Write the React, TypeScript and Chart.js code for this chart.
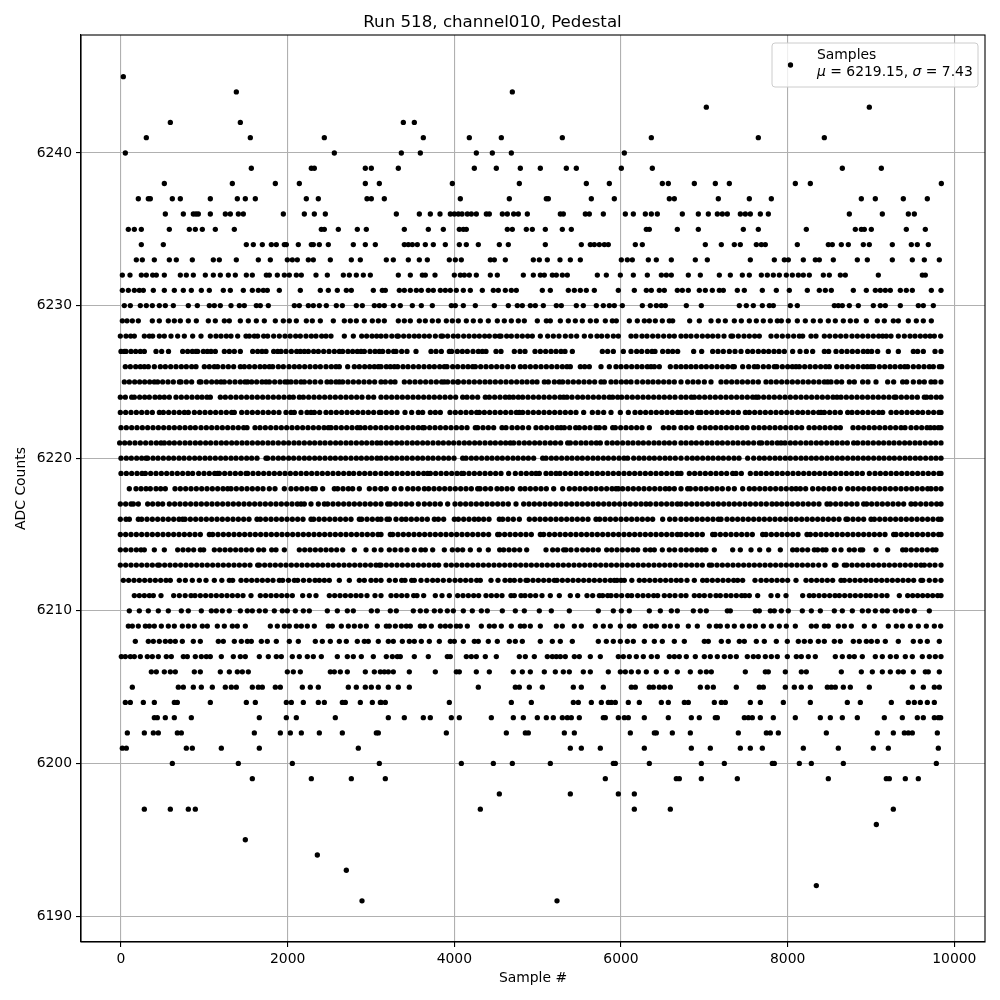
import React, { useEffect, useRef } from "react";
import { Chart, registerables } from "chart.js";
Chart.register(...registerables);

const FONT = '"DejaVu Sans", sans-serif';
const xTicks = [0, 2000, 4000, 6000, 8000, 10000];
const yTicks = [6190, 6200, 6210, 6220, 6230, 6240];

const s6245 = [28];
const s6244 = [1384, 4696];
const s6243 = [7024, 8980];
const s6242 = [592, 1432, 3388, 3520];
const s6241 = [304, 1552, 2440, 3628, 4180, 4564, 5296, 6364, 7648, 8440];
const s6240 = [52, 2560, 3364, 3592, 4264, 4456, 4684, 6040];
const s6239 = [1564, 2284, 2320, 2932, 3004, 3328, 4240, 4504, 4792, 5032, 5344, 5464, 6004, 6376, 8656, 9124];
const s6238 = [520, 1336, 1852, 2140, 2932, 3100, 3976, 4780, 5584, 5860, 6496, 6568, 6880, 7132, 7300, 8092, 8272, 9844];
const s6237 = [208, 328, 352, 616, 712, 1072, 1396, 1492, 1612, 2224, 2368, 2952, 3004, 3160, 4072, 4660, 5104, 5128, 5644, 5920, 6580, 6640, 7168, 7540, 7804, 8884, 9052, 9388, 9676];
const s6236 = [532, 748, 868, 900, 928, 1072, 1252, 1312, 1408, 1468, 1948, 2200, 2320, 2452, 3304, 3580, 3712, 3828, 3952, 4000, 4048, 4092, 4156, 4204, 4264, 4384, 4420, 4576, 4636, 4712, 4768, 4876, 5272, 5308, 5572, 5620, 5788, 6052, 6148, 6292, 6364, 6436, 6736, 6928, 7048, 7156, 7216, 7276, 7432, 7492, 7552, 7672, 7768, 8740, 9136, 9448, 9520];
const s6235 = [88, 160, 244, 580, 820, 892, 976, 1132, 1360, 2404, 2440, 2608, 2836, 2944, 3400, 3688, 3868, 4060, 4108, 4144, 4636, 4696, 4864, 4936, 5092, 5296, 5404, 6304, 6340, 6676, 6928, 7468, 7648, 8224, 8812, 8884, 8920, 9004, 9424, 9652];
const s6234 = [244, 508, 1504, 1588, 1696, 1804, 1864, 1960, 1984, 2128, 2284, 2308, 2380, 2488, 2788, 2932, 3052, 3400, 3448, 3496, 3556, 3652, 3748, 3892, 4060, 4144, 4288, 4540, 4648, 5092, 5524, 5632, 5680, 5740, 5800, 5848, 6172, 6256, 7012, 7204, 7360, 7432, 7624, 7684, 7732, 8116, 8488, 8536, 8644, 8728, 8908, 8980, 9256, 9484, 9556, 9688];
const s6233 = [184, 256, 400, 580, 664, 856, 1108, 1180, 1384, 1648, 1792, 1996, 2056, 2116, 2248, 2308, 2512, 2764, 2872, 3184, 3268, 3448, 3580, 3676, 3940, 4012, 4084, 4432, 4480, 4612, 4948, 5020, 5116, 5268, 5392, 5512, 6004, 6076, 6136, 6328, 6424, 6604, 6892, 7036, 7552, 7840, 7960, 8008, 8188, 8332, 8380, 8548, 8836, 8956, 9256, 9496, 9640, 9820];
const s6232 = [16, 108, 244, 304, 380, 424, 520, 712, 784, 868, 1012, 1108, 1192, 1288, 1372, 1504, 1576, 1744, 1780, 1876, 1960, 2020, 2104, 2164, 2340, 2476, 2668, 2740, 2824, 2908, 2992, 3328, 3472, 3616, 3652, 3768, 4000, 4072, 4120, 4180, 4264, 4432, 4516, 4828, 4948, 5032, 5080, 5176, 5224, 5296, 5356, 5716, 5824, 5992, 6148, 6316, 6484, 6544, 6604, 6808, 6952, 7180, 7312, 7456, 7540, 7684, 7756, 7828, 7900, 7984, 8056, 8128, 8188, 8260, 8428, 8500, 8632, 8692, 9088, 9616, 9652];
const s6231 = [16, 88, 160, 220, 268, 388, 520, 640, 748, 844, 964, 1060, 1228, 1312, 1468, 1576, 1648, 1708, 1756, 1900, 2152, 2392, 2488, 2596, 2704, 2764, 3028, 3136, 3172, 3340, 3400, 3472, 3544, 3604, 3688, 3748, 3832, 3892, 3952, 4024, 4108, 4192, 4336, 4468, 4528, 4612, 4684, 4744, 5056, 5152, 5368, 5440, 5512, 5584, 5680, 5968, 6160, 6304, 6364, 6460, 6520, 6676, 6736, 6808, 6940, 7012, 7096, 7180, 7228, 7396, 7480, 7696, 7864, 8020, 8236, 8380, 8452, 8524, 8788, 8944, 9052, 9112, 9172, 9232, 9352, 9424, 9496, 9724, 9840];
const s6230 = [40, 112, 232, 304, 376, 460, 532, 628, 808, 916, 1060, 1120, 1192, 1320, 1420, 1480, 1624, 1672, 1768, 2080, 2140, 2248, 2308, 2380, 2464, 2584, 2656, 2824, 2896, 3040, 3100, 3160, 3268, 3352, 3496, 3604, 3736, 3964, 4012, 4108, 4252, 4480, 4648, 4756, 4816, 4912, 4972, 5068, 5224, 5284, 5464, 5548, 5704, 5788, 5860, 5920, 6016, 6256, 6352, 6424, 6484, 6532, 6784, 6964, 7420, 7504, 7588, 7696, 7780, 7828, 8032, 8116, 8560, 8608, 8656, 8740, 8848, 9028, 9112, 9172, 9352, 9568, 9628, 9748];
const s6229 = [16, 72, 136, 208, 376, 460, 568, 640, 712, 808, 904, 1048, 1132, 1240, 1300, 1432, 1528, 1624, 1720, 1852, 1948, 2020, 2104, 2224, 2296, 2392, 2548, 2680, 2752, 2824, 2920, 3016, 3088, 3160, 3328, 3400, 3472, 3580, 3652, 3736, 3808, 3904, 3976, 4048, 4144, 4228, 4312, 4408, 4516, 4600, 4684, 4768, 4840, 4996, 5104, 5152, 5272, 5368, 5452, 5536, 5632, 5704, 5812, 5896, 5944, 6100, 6196, 6280, 6340, 6412, 6496, 6580, 6620, 6824, 6940, 7080, 7168, 7252, 7360, 7444, 7540, 7624, 7708, 7792, 7876, 7924, 8008, 8116, 8212, 8308, 8392, 8488, 8572, 8668, 8752, 8824, 8944, 9076, 9160, 9268, 9328, 9448, 9544, 9628, 9724];
const s6228 = [-8, 60, 116, 160, 280, 340, 380, 460, 520, 600, 680, 760, 860, 960, 1072, 1140, 1200, 1264, 1320, 1400, 1500, 1540, 1600, 1640, 1712, 1760, 1832, 1900, 1968, 2030, 2096, 2152, 2220, 2284, 2340, 2408, 2460, 2520, 2680, 2788, 2888, 2948, 3012, 3068, 3120, 3180, 3250, 3312, 3328, 3392, 3456, 3520, 3576, 3640, 3700, 3772, 3840, 3860, 3920, 3988, 4044, 4112, 4176, 4240, 4300, 4364, 4420, 4488, 4540, 4560, 4628, 4684, 4752, 4816, 4880, 4936, 5032, 5120, 5188, 5256, 5332, 5400, 5468, 5560, 5636, 5712, 5768, 5836, 5908, 5968, 6120, 6180, 6252, 6312, 6380, 6444, 6512, 6580, 6640, 6720, 6780, 6840, 6908, 6976, 7040, 7100, 7164, 7236, 7320, 7340, 7408, 7476, 7540, 7604, 7660, 7800, 7868, 7936, 8004, 8072, 8140, 8180, 8280, 8340, 8440, 8504, 8572, 8636, 8700, 8772, 8836, 8900, 8964, 9028, 9092, 9140, 9184, 9240, 9328, 9400, 9468, 9528, 9592, 9652, 9708, 9760, 9836];
const s6227 = [0, 40, 60, 120, 176, 232, 280, 420, 488, 570, 740, 800, 856, 900, 920, 988, 1036, 1080, 1132, 1240, 1300, 1360, 1432, 1580, 1640, 1692, 1740, 1832, 1880, 1920, 1980, 2044, 2108, 2152, 2200, 2248, 2312, 2368, 2432, 2496, 2560, 2620, 2660, 2724, 2780, 2836, 2880, 2920, 2988, 3048, 3100, 3140, 3208, 3272, 3300, 3368, 3432, 3540, 3720, 3780, 3844, 3940, 3968, 4036, 4096, 4156, 4224, 4288, 4336, 4380, 4500, 4560, 4720, 4788, 4848, 4968, 5032, 5096, 5160, 5220, 5280, 5328, 5416, 5776, 5840, 5908, 6028, 6120, 6188, 6248, 6316, 6372, 6408, 6500, 6564, 6620, 6680, 6872, 6968, 7100, 7164, 7228, 7300, 7368, 7440, 7520, 7580, 7648, 7712, 7772, 7836, 7896, 7960, 8060, 8148, 8224, 8300, 8440, 8492, 8580, 8648, 8712, 8776, 8840, 8908, 8960, 9008, 9080, 9208, 9328, 9508, 9560, 9628, 9768, 9840];
const s6226 = [52, 112, 176, 232, 280, 328, 400, 472, 532, 596, 660, 724, 784, 848, 900, 1000, 1060, 1120, 1160, 1224, 1288, 1352, 1432, 1480, 1540, 1604, 1668, 1724, 1780, 1820, 1888, 1948, 2016, 2080, 2140, 2204, 2268, 2332, 2392, 2460, 2524, 2580, 2620, 2720, 2800, 2860, 2924, 2984, 3040, 3088, 3120, 3184, 3232, 3280, 3320, 3384, 3444, 3508, 3572, 3636, 3700, 3760, 3824, 3880, 3912, 3980, 4040, 4104, 4164, 4220, 4252, 4316, 4380, 4444, 4508, 4572, 4640, 4708, 4792, 4848, 4912, 4976, 5040, 5104, 5168, 5232, 5296, 5352, 5392, 5512, 5564, 5620, 5760, 5860, 5940, 6000, 6064, 6128, 6192, 6252, 6316, 6360, 6400, 6460, 6592, 6660, 6720, 6780, 6840, 6900, 6964, 7024, 7088, 7152, 7216, 7280, 7340, 7360, 7460, 7532, 7600, 7640, 7708, 7772, 7840, 7870, 7936, 8000, 8056, 8100, 8140, 8204, 8268, 8332, 8396, 8456, 8500, 8588, 8652, 8716, 8780, 8844, 8908, 8956, 9000, 9032, 9100, 9164, 9228, 9288, 9352, 9404, 9440, 9508, 9572, 9636, 9700, 9748, 9820, 9848];
const s6225 = [40, 100, 164, 224, 284, 344, 400, 440, 500, 564, 628, 700, 720, 784, 848, 940, 960, 1024, 1088, 1148, 1200, 1240, 1304, 1368, 1432, 1488, 1520, 1568, 1628, 1692, 1740, 1780, 1844, 1908, 1968, 2000, 2040, 2100, 2160, 2200, 2264, 2328, 2396, 2472, 2520, 2580, 2620, 2660, 2724, 2788, 2852, 2916, 2980, 3044, 3120, 3172, 3236, 3288, 3400, 3464, 3528, 3592, 3656, 3720, 3784, 3848, 3880, 3920, 3984, 4040, 4048, 4112, 4176, 4240, 4304, 4368, 4428, 4492, 4556, 4620, 4684, 4748, 4812, 4872, 4936, 4992, 5080, 5128, 5200, 5260, 5300, 5364, 5428, 5492, 5556, 5620, 5684, 5760, 5800, 5880, 5940, 6004, 6064, 6120, 6192, 6260, 6324, 6384, 6448, 6512, 6576, 6640, 6720, 6800, 6864, 6928, 7000, 7080, 7200, 7264, 7328, 7392, 7456, 7520, 7584, 7648, 7740, 7800, 7864, 7928, 7992, 8056, 8120, 8184, 8248, 8312, 8376, 8440, 8480, 8520, 8588, 8648, 8740, 8800, 8900, 8964, 9060, 9200, 9272, 9380, 9428, 9508, 9580, 9640, 9720, 9768, 9840];
const s6224 = [-8, 52, 128, 160, 224, 284, 340, 408, 464, 520, 580, 660, 724, 788, 852, 916, 972, 1032, 1072, 1192, 1252, 1316, 1380, 1444, 1508, 1572, 1636, 1700, 1764, 1828, 1892, 1956, 2020, 2068, 2140, 2188, 2252, 2316, 2380, 2444, 2508, 2572, 2636, 2700, 2764, 2828, 2892, 2968, 3032, 3120, 3184, 3248, 3312, 3376, 3440, 3504, 3568, 3632, 3696, 3760, 3824, 3888, 3952, 4016, 4100, 4152, 4216, 4280, 4372, 4420, 4484, 4548, 4612, 4660, 4708, 4768, 4820, 4884, 4948, 5012, 5076, 5140, 5204, 5268, 5312, 5352, 5412, 5480, 5540, 5604, 5668, 5732, 5796, 5860, 5900, 5960, 6008, 6072, 6136, 6200, 6264, 6328, 6392, 6456, 6520, 6584, 6648, 6720, 6780, 6844, 6880, 6940, 7004, 7068, 7132, 7196, 7260, 7324, 7388, 7452, 7516, 7580, 7620, 7648, 7712, 7776, 7840, 7904, 7968, 8032, 8096, 8160, 8224, 8288, 8352, 8416, 8480, 8544, 8592, 8640, 8704, 8768, 8832, 8896, 8960, 9024, 9088, 9152, 9216, 9280, 9300, 9364, 9428, 9492, 9556, 9640, 9668, 9720, 9784, 9840];
const s6223 = [-8, 56, 120, 184, 248, 312, 376, 460, 508, 572, 636, 700, 760, 808, 880, 944, 1008, 1072, 1136, 1200, 1264, 1328, 1360, 1448, 1512, 1576, 1640, 1704, 1768, 1832, 1896, 1980, 2040, 2080, 2160, 2232, 2280, 2320, 2384, 2460, 2520, 2584, 2648, 2712, 2776, 2840, 2904, 2968, 3032, 3100, 3120, 3184, 3248, 3312, 3408, 3488, 3568, 3620, 3712, 3772, 3832, 3948, 4012, 4076, 4140, 4204, 4268, 4300, 4360, 4424, 4488, 4552, 4616, 4680, 4744, 4780, 4820, 4884, 4948, 5012, 5076, 5140, 5204, 5268, 5332, 5396, 5460, 5552, 5656, 5724, 5792, 5880, 5992, 6088, 6168, 6232, 6296, 6360, 6424, 6488, 6552, 6616, 6680, 6720, 6784, 6848, 6920, 6960, 7024, 7088, 7152, 7216, 7280, 7344, 7408, 7492, 7540, 7604, 7668, 7732, 7796, 7860, 7924, 7988, 8052, 8120, 8180, 8244, 8308, 8372, 8400, 8440, 8504, 8568, 8632, 8720, 8772, 8836, 8900, 8964, 9028, 9092, 9140, 9240, 9304, 9368, 9432, 9496, 9560, 9620, 9688, 9752, 9816, 9840];
const s6222 = [0, 64, 128, 192, 256, 320, 384, 448, 512, 576, 640, 704, 768, 832, 892, 960, 1024, 1088, 1152, 1216, 1280, 1344, 1408, 1472, 1512, 1608, 1668, 1732, 1796, 1860, 1924, 1988, 2052, 2116, 2180, 2244, 2308, 2372, 2436, 2488, 2520, 2580, 2644, 2708, 2772, 2836, 2872, 2928, 2992, 3056, 3120, 3184, 3248, 3312, 3376, 3440, 3504, 3568, 3620, 3640, 3704, 3768, 3832, 3896, 3960, 4024, 4088, 4152, 4252, 4280, 4344, 4408, 4472, 4572, 4620, 4692, 4756, 4820, 4892, 4980, 5044, 5108, 5172, 5236, 5280, 5320, 5384, 5456, 5500, 5564, 5628, 5700, 5740, 5804, 5900, 5932, 5996, 6060, 6124, 6188, 6252, 6340, 6508, 6572, 6636, 6720, 6784, 6848, 6940, 7008, 7072, 7136, 7200, 7264, 7328, 7392, 7456, 7512, 7592, 7656, 7720, 7784, 7848, 7912, 7976, 8040, 8104, 8168, 8256, 8320, 8384, 8448, 8512, 8576, 8632, 8784, 8848, 8912, 8976, 9040, 9104, 9168, 9232, 9296, 9360, 9408, 9480, 9544, 9608, 9672, 9712, 9760, 9808, 9840];
const s6221 = [-16, 44, 104, 168, 232, 296, 360, 424, 480, 520, 580, 640, 704, 768, 828, 892, 952, 1016, 1076, 1140, 1204, 1264, 1328, 1388, 1452, 1512, 1576, 1640, 1700, 1764, 1824, 1888, 1952, 2012, 2076, 2136, 2200, 2264, 2324, 2388, 2448, 2512, 2576, 2636, 2700, 2760, 2824, 2888, 2948, 3012, 3072, 3120, 3184, 3244, 3308, 3368, 3432, 3496, 3556, 3620, 3680, 3744, 3808, 3868, 3932, 3992, 4056, 4120, 4180, 4244, 4304, 4368, 4432, 4492, 4556, 4616, 4672, 4712, 4776, 4840, 4900, 4964, 5024, 5088, 5152, 5212, 5276, 5360, 5392, 5456, 5520, 5580, 5644, 5704, 5752, 5832, 5896, 5956, 6020, 6084, 6144, 6208, 6268, 6332, 6396, 6456, 6520, 6580, 6644, 6720, 6780, 6844, 6904, 6968, 7032, 7092, 7156, 7216, 7280, 7344, 7404, 7468, 7528, 7592, 7660, 7688, 7752, 7812, 7876, 7920, 7968, 8032, 8092, 8156, 8220, 8280, 8344, 8404, 8468, 8532, 8592, 8656, 8716, 8792, 8840, 8904, 8964, 9028, 9092, 9152, 9216, 9276, 9340, 9404, 9464, 9528, 9588, 9652, 9716, 9776, 9840];
const s6220 = [0, 64, 124, 188, 248, 300, 320, 384, 444, 508, 572, 632, 696, 756, 820, 884, 944, 1008, 1068, 1132, 1196, 1256, 1320, 1380, 1444, 1508, 1568, 1632, 1740, 1760, 1824, 1888, 1948, 2012, 2072, 2136, 2200, 2260, 2324, 2384, 2448, 2512, 2572, 2636, 2696, 2760, 2824, 2884, 2948, 3008, 3072, 3120, 3184, 3248, 3308, 3372, 3432, 3496, 3560, 3620, 3684, 3744, 3808, 3872, 3932, 3996, 4100, 4140, 4204, 4264, 4328, 4392, 4452, 4516, 4576, 4640, 4704, 4764, 4828, 4888, 4952, 5060, 5100, 5164, 5224, 5288, 5352, 5412, 5476, 5536, 5600, 5664, 5724, 5788, 5848, 5912, 5976, 6036, 6080, 6152, 6216, 6276, 6340, 6400, 6464, 6528, 6588, 6652, 6720, 6792, 6856, 6916, 6980, 7044, 7104, 7168, 7228, 7292, 7356, 7416, 7520, 7592, 7660, 7720, 7784, 7848, 7908, 7972, 8032, 8096, 8160, 8220, 8284, 8344, 8408, 8472, 8532, 8596, 8656, 8720, 8784, 8844, 8908, 8968, 9032, 9096, 9156, 9220, 9280, 9344, 9408, 9468, 9532, 9592, 9656, 9720, 9780, 9840];
const s6219 = [0, 64, 128, 192, 252, 292, 356, 420, 484, 548, 612, 676, 740, 804, 860, 932, 996, 1060, 1124, 1160, 1180, 1244, 1308, 1372, 1436, 1500, 1520, 1584, 1648, 1712, 1776, 1840, 1904, 1968, 2032, 2096, 2160, 2224, 2288, 2352, 2416, 2480, 2544, 2608, 2672, 2736, 2792, 2860, 2924, 2988, 3052, 3120, 3184, 3248, 3312, 3376, 3440, 3504, 3568, 3632, 3680, 3712, 3776, 3840, 3904, 3968, 4032, 4088, 4112, 4176, 4240, 4304, 4368, 4432, 4496, 4560, 4652, 4732, 4800, 4864, 4928, 4980, 5020, 5100, 5160, 5220, 5268, 5332, 5396, 5460, 5524, 5588, 5652, 5716, 5780, 5844, 5908, 5972, 6036, 6100, 6164, 6228, 6292, 6356, 6420, 6484, 6548, 6612, 6676, 6720, 6820, 6884, 6948, 7012, 7076, 7140, 7204, 7268, 7340, 7380, 7444, 7552, 7620, 7680, 7744, 7808, 7872, 7936, 8000, 8064, 8128, 8192, 8256, 8320, 8384, 8448, 8512, 8576, 8640, 8704, 8768, 8832, 8896, 8980, 9048, 9112, 9176, 9240, 9304, 9368, 9432, 9496, 9560, 9624, 9688, 9752, 9816, 9840];
const s6218 = [100, 180, 240, 300, 352, 420, 476, 532, 648, 712, 776, 840, 904, 968, 1032, 1096, 1160, 1224, 1280, 1320, 1384, 1448, 1512, 1576, 1640, 1704, 1780, 1848, 1960, 2040, 2104, 2168, 2232, 2300, 2332, 2420, 2560, 2600, 2664, 2728, 2780, 2860, 2980, 3048, 3120, 3120, 3184, 3280, 3360, 3440, 3504, 3568, 3640, 3692, 3756, 3820, 3884, 3948, 4012, 4076, 4140, 4204, 4280, 4308, 4372, 4436, 4512, 4568, 4632, 4696, 4792, 4848, 4912, 4976, 5040, 5104, 5192, 5300, 5380, 5444, 5508, 5572, 5636, 5700, 5764, 5828, 5892, 5940, 5968, 6020, 6084, 6148, 6212, 6276, 6340, 6404, 6468, 6532, 6580, 6640, 6720, 6800, 6832, 6896, 6960, 7024, 7088, 7152, 7216, 7288, 7360, 7460, 7540, 7600, 7664, 7728, 7792, 7856, 7920, 7984, 8048, 8100, 8152, 8216, 8300, 8368, 8432, 8496, 8560, 8632, 8720, 8784, 8848, 8912, 8976, 9040, 9104, 9168, 9232, 9296, 9360, 9424, 9488, 9552, 9616, 9680, 9720, 9780, 9840];
const s6217 = [-8, 56, 120, 148, 208, 320, 380, 444, 500, 580, 644, 708, 772, 836, 900, 964, 1028, 1092, 1156, 1220, 1284, 1348, 1412, 1476, 1540, 1604, 1668, 1732, 1796, 1860, 1924, 1988, 2052, 2116, 2160, 2200, 2280, 2368, 2440, 2480, 2544, 2608, 2672, 2736, 2800, 2864, 2928, 2992, 3056, 3120, 3200, 3232, 3296, 3360, 3424, 3488, 3568, 3640, 3704, 3768, 3832, 3920, 4008, 4072, 4136, 4200, 4264, 4328, 4392, 4456, 4520, 4584, 4648, 4740, 4832, 4896, 4960, 5024, 5088, 5152, 5216, 5280, 5344, 5408, 5472, 5536, 5600, 5664, 5728, 5792, 5856, 5920, 5984, 6048, 6112, 6176, 6240, 6300, 6352, 6420, 6484, 6548, 6612, 6676, 6720, 6784, 6848, 6912, 6976, 7040, 7104, 7168, 7232, 7296, 7360, 7424, 7488, 7552, 7616, 7680, 7744, 7812, 7868, 7928, 7992, 8056, 8120, 8184, 8248, 8312, 8376, 8472, 8512, 8576, 8640, 8704, 8768, 8832, 8912, 8948, 9008, 9072, 9136, 9200, 9264, 9328, 9392, 9480, 9532, 9596, 9660, 9724, 9788, 9840];
const s6216 = [-8, 60, 100, 208, 248, 312, 376, 440, 504, 568, 632, 696, 740, 768, 832, 896, 960, 1024, 1088, 1152, 1216, 1280, 1344, 1408, 1472, 1536, 1632, 1672, 1736, 1800, 1864, 1928, 1992, 2056, 2120, 2184, 2280, 2312, 2376, 2440, 2504, 2568, 2632, 2696, 2760, 2860, 2888, 2952, 3016, 3080, 3120, 3192, 3220, 3300, 3368, 3420, 3484, 3548, 3612, 3676, 3760, 3808, 3872, 4000, 4048, 4112, 4176, 4240, 4292, 4352, 4416, 4540, 4580, 4644, 4708, 4780, 4900, 4964, 5028, 5092, 5156, 5220, 5284, 5348, 5412, 5476, 5540, 5604, 5700, 5744, 5808, 5872, 5936, 6000, 6064, 6128, 6192, 6256, 6320, 6380, 6500, 6584, 6648, 6720, 6784, 6848, 6912, 6976, 7040, 7104, 7168, 7200, 7272, 7336, 7400, 7464, 7528, 7592, 7656, 7720, 7784, 7848, 7912, 7976, 8040, 8104, 8168, 8232, 8296, 8360, 8424, 8488, 8552, 8616, 8700, 8720, 8784, 8848, 8912, 9000, 9040, 9104, 9168, 9232, 9296, 9360, 9424, 9488, 9552, 9616, 9680, 9744, 9808, 9840];
const s6215 = [-8, 56, 120, 184, 248, 312, 376, 440, 504, 568, 632, 696, 760, 824, 888, 952, 1060, 1100, 1164, 1228, 1292, 1356, 1420, 1484, 1548, 1612, 1676, 1740, 1804, 1868, 1932, 1996, 2060, 2124, 2188, 2252, 2316, 2380, 2444, 2508, 2572, 2636, 2700, 2764, 2828, 2892, 2956, 3020, 3084, 3120, 3232, 3260, 3324, 3388, 3452, 3516, 3580, 3644, 3708, 3772, 3836, 3900, 3964, 4028, 4092, 4156, 4220, 4284, 4348, 4412, 4520, 4540, 4604, 4668, 4732, 4796, 4860, 4924, 5032, 5072, 5140, 5204, 5268, 5332, 5396, 5460, 5524, 5588, 5652, 5716, 5780, 5844, 5908, 5972, 6036, 6100, 6164, 6228, 6292, 6356, 6420, 6484, 6548, 6612, 6676, 6720, 6784, 6848, 6912, 6976, 7100, 7128, 7192, 7256, 7320, 7384, 7448, 7512, 7576, 7700, 7740, 7804, 7868, 7932, 7996, 8060, 8124, 8232, 8272, 8336, 8400, 8464, 8528, 8592, 8656, 8720, 8784, 8848, 8912, 8976, 9040, 9104, 9168, 9272, 9300, 9364, 9428, 9492, 9556, 9620, 9684, 9748, 9812, 9840];
const s6214 = [-8, 56, 120, 184, 240, 280, 400, 520, 680, 744, 808, 872, 952, 992, 1120, 1184, 1248, 1312, 1376, 1440, 1504, 1568, 1652, 1712, 1808, 1860, 1960, 2140, 2204, 2268, 2332, 2396, 2460, 2524, 2588, 2660, 2800, 2940, 3040, 3120, 3220, 3288, 3360, 3432, 3520, 3600, 3652, 3740, 3880, 3976, 4040, 4100, 4192, 4300, 4408, 4544, 4592, 4656, 4720, 4784, 4868, 5100, 5180, 5240, 5312, 5340, 5400, 5470, 5540, 5600, 5664, 5728, 5828, 5888, 5952, 6016, 6080, 6144, 6200, 6292, 6352, 6400, 6496, 6580, 6644, 6720, 6784, 6848, 6912, 6968, 7020, 7120, 7340, 7432, 7560, 7664, 7772, 7912, 8060, 8112, 8176, 8240, 8320, 8360, 8420, 8460, 8560, 8640, 8740, 8800, 8872, 8900, 9060, 9200, 9380, 9420, 9484, 9548, 9612, 9676, 9740, 9780];
const s6213 = [-8, 56, 120, 184, 248, 312, 376, 440, 460, 524, 588, 652, 716, 780, 844, 908, 972, 1036, 1100, 1164, 1228, 1292, 1356, 1420, 1484, 1548, 1640, 1660, 1724, 1788, 1852, 1916, 1980, 2044, 2108, 2172, 2236, 2300, 2360, 2420, 2484, 2548, 2612, 2676, 2740, 2804, 2868, 2932, 2996, 3060, 3100, 3120, 3184, 3248, 3312, 3376, 3440, 3504, 3568, 3632, 3696, 3760, 3812, 3900, 3964, 4028, 4092, 4156, 4220, 4284, 4348, 4412, 4476, 4540, 4604, 4668, 4732, 4796, 4860, 4924, 4988, 5052, 5116, 5180, 5244, 5308, 5372, 5436, 5500, 5564, 5628, 5692, 5756, 5820, 5884, 5948, 6012, 6076, 6140, 6204, 6268, 6332, 6396, 6460, 6524, 6588, 6652, 6720, 6784, 6848, 6912, 6976, 7060, 7088, 7152, 7216, 7280, 7344, 7408, 7472, 7536, 7600, 7664, 7728, 7792, 7856, 7920, 7984, 8048, 8112, 8176, 8240, 8304, 8372, 8448, 8560, 8580, 8680, 8708, 8772, 8836, 8900, 8964, 9028, 9092, 9156, 9220, 9284, 9348, 9412, 9476, 9540, 9600, 9640, 9704, 9768, 9840];
const s6212 = [28, 92, 156, 220, 284, 348, 412, 476, 540, 592, 700, 772, 856, 940, 1020, 1120, 1210, 1300, 1340, 1440, 1504, 1568, 1632, 1696, 1760, 1824, 1900, 1940, 2010, 2080, 2120, 2190, 2260, 2328, 2380, 2440, 2500, 2620, 2740, 2860, 2920, 3000, 3060, 3120, 3220, 3292, 3368, 3408, 3488, 3520, 3600, 3672, 3740, 3800, 3868, 3940, 4008, 4072, 4136, 4200, 4268, 4312, 4440, 4524, 4608, 4668, 4720, 4790, 4860, 4880, 4944, 5008, 5072, 5136, 5200, 5232, 5296, 5360, 5424, 5488, 5552, 5616, 5680, 5744, 5808, 5872, 5920, 5952, 6000, 6040, 6130, 6220, 6280, 6344, 6408, 6472, 6536, 6600, 6664, 6720, 6792, 6880, 6980, 7032, 7096, 7160, 7224, 7288, 7352, 7400, 7460, 7608, 7680, 7744, 7808, 7872, 7936, 8000, 8100, 8220, 8284, 8348, 8412, 8476, 8540, 8640, 8680, 8744, 8808, 8872, 8936, 9000, 9064, 9128, 9192, 9256, 9320, 9384, 9448, 9512, 9600, 9620, 9700, 9770, 9840];
const s6211 = [160, 220, 280, 340, 388, 480, 632, 700, 770, 840, 888, 952, 1016, 1080, 1144, 1208, 1272, 1336, 1400, 1464, 1560, 1672, 1736, 1800, 1864, 1928, 1992, 2056, 2180, 2260, 2340, 2500, 2564, 2628, 2692, 2756, 2820, 2880, 2952, 3048, 3120, 3240, 3304, 3368, 3432, 3512, 3552, 3632, 3772, 3852, 3940, 4040, 4104, 4168, 4232, 4292, 4380, 4444, 4508, 4572, 4680, 4720, 4800, 4848, 4912, 4976, 5052, 5152, 5260, 5392, 5480, 5592, 5660, 5740, 5780, 5840, 5880, 5944, 6008, 6080, 6128, 6200, 6264, 6328, 6392, 6440, 6520, 6584, 6648, 6720, 6780, 6880, 6940, 7000, 7070, 7140, 7192, 7260, 7320, 7384, 7448, 7488, 7540, 7640, 7800, 7880, 7980, 8180, 8260, 8312, 8376, 8440, 8504, 8568, 8620, 8684, 8748, 8812, 8876, 8940, 8992, 9060, 9130, 9192, 9340, 9440, 9500, 9560, 9620, 9680, 9740, 9800, 9840];
const s6210 = [100, 220, 328, 448, 568, 724, 808, 964, 1084, 1144, 1216, 1300, 1432, 1516, 1576, 1660, 1732, 1840, 1936, 1996, 2092, 2188, 2260, 2476, 2596, 2716, 2788, 3004, 3076, 3232, 3304, 3508, 3592, 3664, 3760, 3832, 3916, 3988, 4108, 4216, 4324, 4396, 4576, 4732, 4840, 5020, 5164, 5380, 5728, 5908, 6004, 6100, 6340, 6472, 6604, 6676, 6868, 6952, 7024, 7276, 7312, 7612, 7660, 7792, 7840, 7924, 8008, 8176, 8284, 8392, 8560, 8656, 8776, 8896, 8968, 9052, 9136, 9196, 9292, 9364, 9436, 9520, 9700];
const s6209 = [88, 136, 208, 292, 340, 400, 484, 568, 640, 736, 808, 880, 976, 1036, 1156, 1240, 1336, 1396, 1492, 1792, 1876, 1960, 2020, 2104, 2164, 2236, 2320, 2488, 2536, 2644, 2728, 2800, 2872, 2944, 3076, 3184, 3220, 3292, 3364, 3424, 3472, 3592, 3640, 3724, 3832, 3892, 3952, 4024, 4072, 4156, 4324, 4420, 4480, 4564, 4684, 4792, 4840, 4912, 5032, 5224, 5296, 5440, 5524, 5692, 5788, 5872, 5992, 6100, 6160, 6292, 6364, 6424, 6520, 6592, 6676, 6808, 6916, 7060, 7144, 7192, 7276, 7360, 7456, 7540, 7612, 7708, 7804, 7900, 7984, 8092, 8284, 8344, 8440, 8488, 8608, 8680, 8764, 8920, 9040, 9208, 9304, 9376, 9472, 9568, 9664, 9760, 9836];
const s6208 = [172, 328, 388, 460, 532, 592, 652, 736, 868, 952, 1168, 1228, 1360, 1444, 1516, 1564, 1684, 1756, 1864, 2020, 2128, 2332, 2416, 2512, 2620, 2704, 2836, 2920, 2968, 3088, 3208, 3268, 3376, 3460, 3520, 3604, 3700, 3820, 3952, 4000, 4108, 4240, 4288, 4408, 4516, 4660, 4732, 4816, 5032, 5176, 5272, 5416, 5728, 5824, 5908, 5992, 6076, 6148, 6280, 6400, 6496, 6640, 6760, 7000, 7048, 7204, 7288, 7420, 7480, 7624, 7720, 7864, 7996, 8128, 8200, 8272, 8368, 8440, 8560, 8632, 8788, 8860, 8944, 9004, 9076, 9172, 9328, 9508, 9592, 9676, 9820];
const s6207 = [4, 52, 112, 160, 232, 316, 376, 448, 544, 604, 748, 796, 892, 964, 1024, 1072, 1204, 1348, 1432, 1492, 1660, 1768, 1864, 1924, 2056, 2140, 2236, 2308, 2404, 2596, 2716, 2788, 2884, 3028, 3184, 3256, 3316, 3352, 3520, 3688, 3916, 3952, 4144, 4204, 4264, 4372, 4504, 4780, 4852, 4960, 5116, 5176, 5224, 5272, 5332, 5440, 5500, 5632, 5752, 5968, 6028, 6100, 6184, 6268, 6364, 6436, 6580, 6640, 6700, 6784, 6892, 7000, 7072, 7156, 7240, 7312, 7384, 7516, 7588, 7648, 7732, 7804, 7876, 7996, 8104, 8164, 8248, 8332, 8572, 8656, 8740, 8800, 8896, 9052, 9136, 9232, 9304, 9412, 9496, 9616, 9700, 9772, 9840];
const s6206 = [364, 424, 520, 592, 652, 880, 952, 1192, 1300, 1396, 1456, 1528, 1996, 2068, 2152, 2512, 2560, 2632, 2716, 2932, 3040, 3112, 3160, 3208, 3268, 3460, 3772, 4024, 4060, 4264, 4420, 4708, 4816, 4912, 5080, 5212, 5308, 5380, 5548, 5632, 5848, 5992, 6052, 6124, 6208, 6304, 6424, 6544, 6676, 6832, 6952, 7024, 7084, 7492, 7732, 7768, 7972, 8164, 8224, 8644, 8884, 9016, 9136, 9232, 9328, 9388, 9508, 9652, 9688, 9820];
const s6205 = [136, 688, 748, 868, 964, 1096, 1252, 1324, 1384, 1576, 1648, 1696, 1852, 1912, 2176, 2272, 2368, 2728, 2824, 2932, 3004, 3088, 3208, 3328, 3460, 4288, 4732, 4780, 4900, 5056, 5428, 5524, 5788, 6124, 6172, 6340, 6388, 6460, 6520, 6592, 6952, 7036, 7108, 7384, 7660, 7708, 7972, 8080, 8164, 8272, 8476, 8524, 8572, 8668, 8752, 8980, 9496, 9628, 9760, 9820];
const s6204 = [52, 112, 268, 400, 640, 676, 1072, 1504, 1612, 1984, 2044, 2188, 2368, 2440, 2656, 2692, 2872, 3016, 3112, 3120, 3172, 3940, 4684, 4924, 5428, 5488, 5644, 5764, 5848, 5884, 5932, 6088, 6220, 6484, 6568, 6760, 6808, 7120, 7204, 7252, 7552, 7672, 7948, 8272, 8716, 8872, 9244, 9448, 9520, 9592, 9676, 9760];
const s6203 = [400, 436, 532, 640, 844, 1660, 1984, 2104, 2572, 3208, 3400, 3628, 3712, 3964, 4060, 4444, 4708, 4828, 4996, 5104, 5188, 5296, 5356, 5404, 5500, 5788, 5812, 5968, 6040, 6088, 6280, 6568, 6844, 6940, 7132, 7156, 7480, 7528, 7576, 7672, 7828, 8092, 8392, 8512, 8656, 8836, 9160, 9376, 9556, 9628, 9760, 9808, 9836];
const s6202 = [76, 280, 388, 448, 676, 724, 1600, 1912, 2032, 2164, 2380, 2656, 3064, 3088, 3904, 4624, 4852, 4888, 5320, 5440, 6112, 6400, 6424, 6616, 6832, 7408, 7744, 7792, 7888, 8464, 9076, 9268, 9400, 9448, 9496, 9796];
const s6201 = [16, 64, 784, 856, 1204, 1660, 2848, 5392, 5524, 5752, 6280, 6844, 7072, 7432, 7552, 7696, 8188, 8608, 9028, 9208, 9808];
const s6200 = [616, 1408, 2056, 3100, 4084, 4468, 4696, 5152, 5908, 5932, 6340, 6964, 7240, 7816, 7840, 8140, 8284, 8668, 9784];
const s6199 = [1576, 2284, 2764, 3172, 5812, 6664, 6700, 6964, 7396, 8488, 9184, 9220, 9412, 9568];
const s6198 = [4540, 5392, 5968, 6160];
const s6197 = [280, 592, 808, 892, 4312, 6160, 6592, 9268];
const s6196 = [9064];
const s6195 = [1492];
const s6194 = [2356];
const s6193 = [2704];
const s6192 = [8344];
const s6191 = [2892, 5232];

const levels: [number, number[]][] = [
  [6245, s6245], [6244, s6244], [6243, s6243], [6242, s6242], [6241, s6241], [6240, s6240], [6239, s6239], [6238, s6238], [6237, s6237], [6236, s6236], [6235, s6235], [6234, s6234], [6233, s6233], [6232, s6232], [6231, s6231], [6230, s6230], [6229, s6229], [6228, s6228], [6227, s6227], [6226, s6226], [6225, s6225], [6224, s6224], [6223, s6223], [6222, s6222], [6221, s6221], [6220, s6220], [6219, s6219], [6218, s6218], [6217, s6217], [6216, s6216], [6215, s6215], [6214, s6214], [6213, s6213], [6212, s6212], [6211, s6211], [6210, s6210], [6209, s6209], [6208, s6208], [6207, s6207], [6206, s6206], [6205, s6205], [6204, s6204], [6203, s6203], [6202, s6202], [6201, s6201], [6200, s6200], [6199, s6199], [6198, s6198], [6197, s6197], [6196, s6196], [6195, s6195], [6194, s6194], [6193, s6193], [6192, s6192], [6191, s6191],
];
const points = levels.flatMap(([y, xs]) => xs.map((x) => ({ x, y })));

const frameAndLegend = {
  id: "frameAndLegend",
  afterDraw(chart: any) {
    const { ctx, chartArea: a } = chart;
    ctx.save();
    ctx.strokeStyle = "#000";
    ctx.lineWidth = 1.1;
    ctx.strokeRect(a.left, a.top, a.right - a.left, a.bottom - a.top);
    ctx.beginPath();
    ctx.roundRect(772, 43, 206, 44, 3);
    ctx.fillStyle = "rgba(255,255,255,0.8)";
    ctx.fill();
    ctx.strokeStyle = "#cccccc";
    ctx.lineWidth = 1;
    ctx.stroke();
    ctx.beginPath();
    ctx.arc(790.5, 65, 2.65, 0, Math.PI * 2);
    ctx.fillStyle = "#000";
    ctx.fill();
    ctx.textBaseline = "alphabetic";
    ctx.textAlign = "left";
    const reg = `13.9px ${FONT}`;
    const ita = `italic 13.9px ${FONT}`;
    ctx.font = reg;
    ctx.fillText("Samples", 817, 59);
    let x = 817;
    for (const [t, f] of [["μ", ita], [" = 6219.15, ", reg], ["σ", ita], [" = 7.43", reg]]) {
      ctx.font = f;
      ctx.fillText(t, x, 76);
      x += ctx.measureText(t).width;
    }
    ctx.restore();
  },
};

const toTicks = (vals: number[]) => vals.map((value) => ({ value }));

export default function App() {
  const ref = useRef<HTMLCanvasElement>(null);
  useEffect(() => {
    document.body.style.margin = "0";
    const chart = new Chart(ref.current!, {
      type: "scatter",
      data: { datasets: [{ label: "Samples", data: points, backgroundColor: "#000", pointRadius: 2.65, pointBorderWidth: 0, pointHoverRadius: 2.65 }] },
      plugins: [frameAndLegend],
      options: {
        animation: false,
        responsive: false,
        layout: { padding: { left: 0, right: 15, top: 0, bottom: 0 } },
        plugins: {
          legend: { display: false },
          tooltip: { enabled: false },
          title: { display: true, text: "Run 518, channel010, Pedestal", color: "#000", font: { family: FONT, size: 16.67, weight: "normal" }, padding: { top: 13, bottom: 2 } },
        },
        scales: {
          x: {
            type: "linear", min: -480, max: 10368,
            afterBuildTicks: (s: any) => { s.ticks = toTicks(xTicks); },
            afterFit: (s: any) => { s.height = 58; },
            border: { color: "#000", width: 1.1 },
            grid: { color: "#b0b0b0", lineWidth: 1.1, tickColor: "#000", tickLength: 5 },
            ticks: { autoSkip: false, color: "#000", maxRotation: 0, padding: 4, font: { family: FONT, size: 13.9 }, callback: (v: any) => String(v) },
            title: { display: true, text: "Sample #", color: "#000", font: { family: FONT, size: 13.9 }, padding: { top: 4, bottom: 13 } },
          },
          y: {
            type: "linear", min: 6188.3, max: 6247.73,
            afterBuildTicks: (s: any) => { s.ticks = toTicks(yTicks); },
            afterFit: (s: any) => { s.width = 81; },
            border: { color: "#000", width: 1.1 },
            grid: { color: "#b0b0b0", lineWidth: 1.1, tickColor: "#000", tickLength: 5 },
            ticks: { autoSkip: false, color: "#000", padding: 4, font: { family: FONT, size: 13.9 }, callback: (v: any) => String(v) },
            title: { display: true, text: "ADC Counts", color: "#000", font: { family: FONT, size: 13.9 }, padding: { top: 13, bottom: 4 } },
          },
        },
      },
    } as any);
    return () => chart.destroy();
  }, []);
  return <canvas ref={ref} width={1000} height={1000} style={{ display: "block" }} />;
}
